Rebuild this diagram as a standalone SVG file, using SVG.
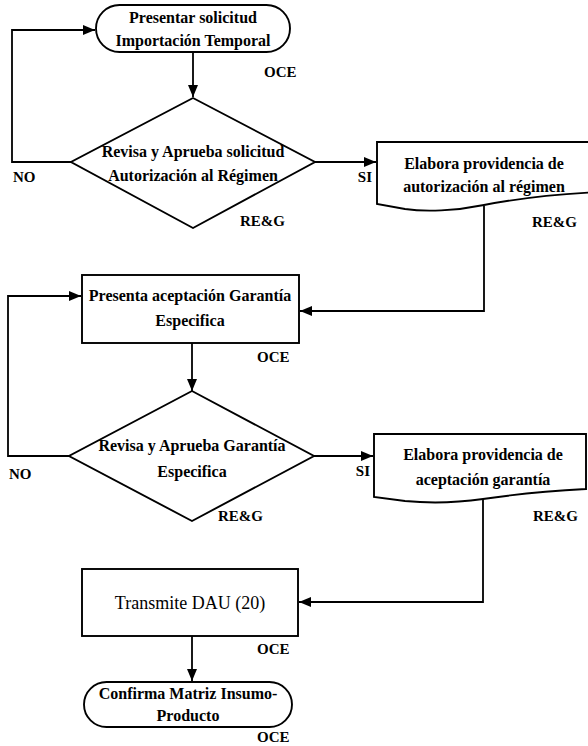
<svg xmlns="http://www.w3.org/2000/svg" width="588" height="746" viewBox="0 0 588 746">
  <style>
    .shape { fill: #ffffff; stroke: #000000; stroke-width: 1.9; }
    .edge { fill: none; stroke: #000000; stroke-width: 1.8; }
    .t { font-family: "Liberation Serif", "DejaVu Serif", "Times New Roman", serif; font-size: 16px; font-weight: bold; fill: #000000; text-anchor: middle; }
    .tr { font-family: "Liberation Serif", "DejaVu Serif", "Times New Roman", serif; font-size: 18px; font-weight: normal; fill: #000000; text-anchor: middle; }
    .lbl { font-family: "Liberation Serif", "DejaVu Serif", "Times New Roman", serif; font-size: 15px; font-weight: bold; fill: #000000; }
  </style>
  <defs>
    <marker id="arrow" viewBox="0 0 12 10" refX="12" refY="5" markerWidth="12" markerHeight="10" markerUnits="userSpaceOnUse" orient="auto">
      <path d="M0,0 L12,5 L0,10 Z" fill="#000000"/>
    </marker>
  </defs>

  <rect width="588" height="746" fill="#ffffff"/>

  <!-- connectors -->
  <g id="connectors">
    <path class="edge" d="M193,52 V97" marker-end="url(#arrow)"/>
    <path class="edge" d="M71,162 H12 V30 H95" marker-end="url(#arrow)"/>
    <path class="edge" d="M315,162 H376" marker-end="url(#arrow)"/>
    <path class="edge" d="M484,206 V311 H300" marker-end="url(#arrow)"/>
    <path class="edge" d="M192,343 V391" marker-end="url(#arrow)"/>
    <path class="edge" d="M69,456 H8 V296 H81" marker-end="url(#arrow)"/>
    <path class="edge" d="M314,456 H373" marker-end="url(#arrow)"/>
    <path class="edge" d="M483,499 V602 H299" marker-end="url(#arrow)"/>
    <path class="edge" d="M192,636 V681" marker-end="url(#arrow)"/>
  </g>

  <!-- start terminal -->
  <g id="start">
    <rect class="shape" x="96" y="5" width="194" height="47" rx="23.5" ry="23.5"/>
    <text class="t" x="193" y="23">Presentar solicitud</text>
    <text class="t" x="193" y="46">Importación Temporal</text>
    <text class="lbl" x="264" y="77">OCE</text>
  </g>

  <!-- decision: request approval -->
  <g id="review-request">
    <polygon class="shape" points="193,98 315,162 193,228 71,162"/>
    <text class="t" x="193" y="157">Revisa y Aprueba solicitud</text>
    <text class="t" x="193" y="181">Autorización al Régimen</text>
    <text class="lbl" x="240" y="226">RE&amp;G</text>
    <text class="lbl" x="13" y="182">NO</text>
    <text class="lbl" x="372" y="182" text-anchor="end">SI</text>
  </g>

  <!-- document: authorisation order -->
  <g id="authorisation-doc">
    <path class="shape" d="M377,142 H600 V192 C560,194 515,199 484,205 C455,211 425,212 405,209 L377,204 Z"/>
    <text class="t" x="484" y="169">Elabora providencia de</text>
    <text class="t" x="484" y="192">autorización al régimen</text>
    <text class="lbl" x="532" y="227">RE&amp;G</text>
  </g>

  <!-- process: guarantee acceptance -->
  <g id="guarantee">
    <rect class="shape" x="82" y="275" width="217" height="68"/>
    <text class="t" x="190" y="301">Presenta aceptación Garantía</text>
    <text class="t" x="190" y="326">Especifica</text>
    <text class="lbl" x="257" y="362">OCE</text>
  </g>

  <!-- decision: guarantee approval -->
  <g id="review-guarantee">
    <polygon class="shape" points="192,391 314,456 192,521 69,456"/>
    <text class="t" x="192" y="451">Revisa y Aprueba Garantía</text>
    <text class="t" x="192" y="477">Especifica</text>
    <text class="lbl" x="218" y="521">RE&amp;G</text>
    <text class="lbl" x="9" y="479">NO</text>
    <text class="lbl" x="370" y="476" text-anchor="end">SI</text>
  </g>

  <!-- document: guarantee acceptance order -->
  <g id="acceptance-doc">
    <path class="shape" d="M374,434 H586 V489 C550,491 510,495 483,499 C455,503 425,503 405,501 L374,497 Z"/>
    <text class="t" x="483" y="460">Elabora providencia de</text>
    <text class="t" x="483" y="485">aceptación garantía</text>
    <text class="lbl" x="533" y="521">RE&amp;G</text>
  </g>

  <!-- process: DAU transmission -->
  <g id="transmit">
    <rect class="shape" x="82" y="569" width="216" height="67"/>
    <text class="tr" x="190" y="609">Transmite DAU (20)</text>
    <text class="lbl" x="257" y="654">OCE</text>
  </g>

  <!-- end terminal -->
  <g id="end">
    <rect class="shape" x="84" y="682" width="208" height="45" rx="22.5" ry="22.5"/>
    <text class="t" x="188" y="699">Confirma Matriz Insumo-</text>
    <text class="t" x="188" y="721">Producto</text>
    <text class="lbl" x="257" y="742">OCE</text>
  </g>
</svg>
